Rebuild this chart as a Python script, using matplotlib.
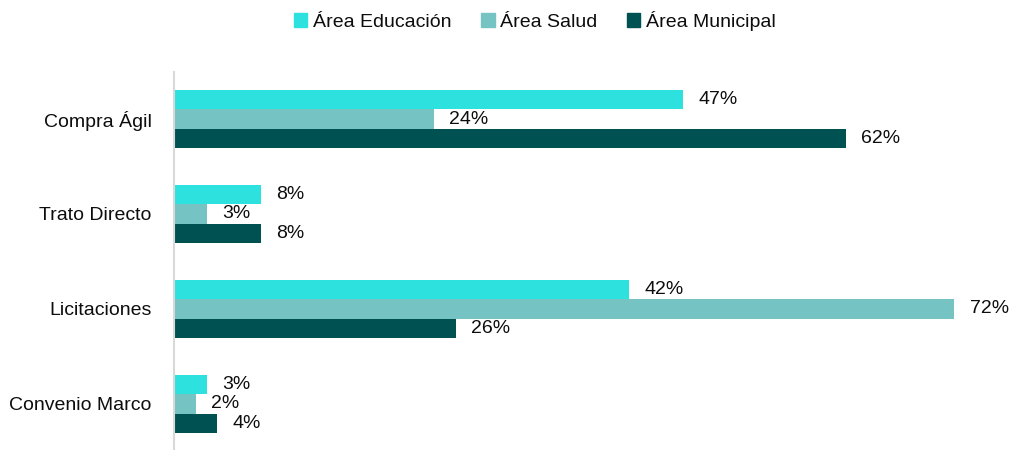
import matplotlib
matplotlib.use("Agg")
from matplotlib import pyplot as plt
from matplotlib.patches import Patch
import numpy as np

plt.rcParams['font.family'] = ['Liberation Sans Narrow', 'Liberation Sans', 'DejaVu Sans']

categories = ['Compra Ágil', 'Trato Directo', 'Licitaciones', 'Convenio Marco']
educacion = [47, 8, 42, 3]
salud = [24, 3, 72, 2]
municipal = [62, 8, 26, 4]
series_names = ['Área Educación', 'Área Salud', 'Área Municipal']
colors = ['#2de2de', '#76c3c3', '#005252']

fig = plt.figure(figsize=(10.15, 4.5), dpi=100)
ax = fig.add_axes([174 / 1015, -0.003, 1 - 174 / 1015, 0.844])

pos = np.arange(len(categories))
h = 0.205
for i, (vals, c) in enumerate(zip([educacion, salud, municipal], colors)):
    yy = pos + (i - 1) * h
    ax.barh(yy, vals, height=h, color=c)
    for y, v in zip(yy, vals):
        ax.annotate('%d%%' % v, (v, y), xytext=(11, 0), textcoords='offset points',
                    va='center', ha='left', fontsize=14, color='#0d0d0d')

ax.set_xlim(0, 77.6)
ax.set_ylim(3.5, -0.5)
ax.set_yticks(pos)
ax.set_yticklabels(categories, fontsize=14, color='#0d0d0d')
ax.tick_params(axis='y', length=0, pad=16)
ax.set_xticks([])
for s in ['top', 'right', 'bottom']:
    ax.spines[s].set_visible(False)
ax.spines['left'].set_color('#d9d9d9')
ax.spines['left'].set_linewidth(1.5)

handles = [Patch(color=c, label=n) for c, n in zip(colors, series_names)]
fig.legend(handles=handles, loc='upper center', bbox_to_anchor=(0.527, 1.015), ncol=3,
           frameon=False, fontsize=14, handlelength=0.7, handleheight=0.7,
           handletextpad=0.3, columnspacing=1.5, labelcolor='#0d0d0d')

fig.savefig('out.png', dpi=100)
